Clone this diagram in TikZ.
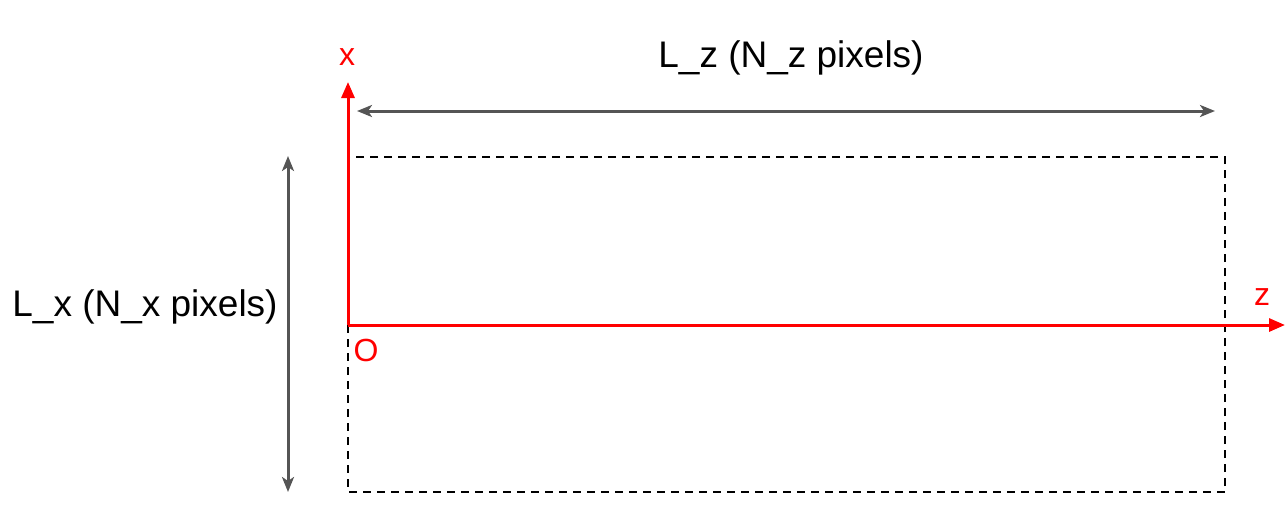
\documentclass[tikz,border=0pt]{standalone}
\usepackage{fontspec}
\setmainfont{Liberation Sans}
\usetikzlibrary{arrows.meta}
\definecolor{axred}{RGB}{255,0,0}
\definecolor{dimgray}{RGB}{85,85,85}
\begin{document}
\begin{tikzpicture}[x=1pt,y=-1pt,
  axis/.style={draw=axred,line width=3pt,-{Triangle[length=16pt,width=13pt]}},
  dimline/.style={draw=dimgray,line width=3pt,{Stealth[length=15pt,width=12pt,inset=4pt]}-{Stealth[length=15pt,width=12pt,inset=4pt]}},
  frame/.style={draw=black,line width=1.6pt,dash pattern=on 8pt off 6pt},
  biglabel/.style={font=\fontsize{37}{40}\selectfont,text=black,inner sep=0pt},
  axlabel/.style={font=\fontsize{32}{34}\selectfont,text=axred,inner sep=0pt}]
\useasboundingbox (0,0) rectangle (1287,507);
% dashed frame
\draw[frame] (348,157) rectangle (1225,492);
% axes
\coordinate (O) at (348,325);
\coordinate (xtip) at (348,82);
\coordinate (ztip) at (1285,325);
\draw[axis] (O) -- (xtip);
\draw[axis] (O) -- (ztip);
\node[axlabel] (xl) at (347,57) {x};
\node[axlabel] (zl) at (1262,297) {z};
\node[axlabel] (ol) at (366,350) {O};
% dimension arrows
\coordinate (hl) at (357,111);
\coordinate (hr) at (1215,111);
\draw[dimline] (hl) -- (hr);
\coordinate (vt) at (288,156);
\coordinate (vb) at (288,492);
\draw[dimline] (vt) -- (vb);
\node[biglabel] (lz) at (791,58) {L\_z (N\_z pixels)};
\node[biglabel] (lx) at (145,307) {L\_x (N\_x pixels)};
\end{tikzpicture}
\end{document}
